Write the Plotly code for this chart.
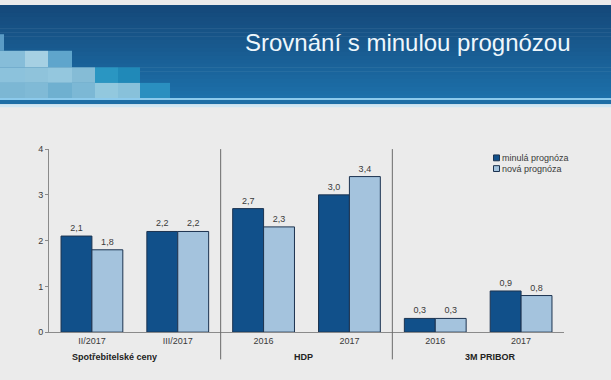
import plotly.graph_objects as go

# ---- data ----
categories = ["II/2017", "III/2017", "2016", "2017", "2016", "2017"]
group_labels = ["Spotřebitelské ceny", "HDP", "3M PRIBOR"]
series_names = ["minulá prognóza", "nová prognóza"]
minula = [2.1, 2.2, 2.7, 3.0, 0.3, 0.9]
nova = [1.8, 2.2, 2.3, 3.4, 0.3, 0.8]
y_ticks = [0, 1, 2, 3, 4]
title_text = "Srovnání s minulou prognózou"

# ---- styling ----
W, H = 611, 380
BG = "#ebebeb"
DARK = "#11508a"
LIGHT = "#a4c3dd"
OUTLINE = "#1c3350"
FONT = "Liberation Sans, Arial, sans-serif"

def py(p):
    return 1 - p / H

def px(p):
    return p / W

x_idx = list(range(len(categories)))

fig = go.Figure()
for name, vals, col in [(series_names[0], minula, DARK), (series_names[1], nova, LIGHT)]:
    fig.add_trace(go.Bar(
        x=x_idx, y=vals, name=name,
        marker=dict(color=col, line=dict(color=OUTLINE, width=1)),
        texttemplate="%{y:.1f}", textposition="outside",
        textfont=dict(size=9, color="#3a3a3a", family=FONT),
        cliponaxis=False, showlegend=False,
    ))

shapes = []
# header gradient
top = (21, 73, 122)
bot = (29, 112, 170)
n = 24
for i in range(n):
    t = i / (n - 1)
    c = tuple(int(top[k] + (bot[k] - top[k]) * t) for k in range(3))
    y0 = 96 * i / n
    y1 = 96 * (i + 1) / n + 0.5
    shapes.append(dict(type="rect", xref="paper", yref="paper", x0=0, x1=1,
                       y0=py(y1), y1=py(y0), line=dict(width=0),
                       fillcolor="rgb(%d,%d,%d)" % c, layer="above"))
# mosaic squares (decoration)
squares = [
    (0, 4, 30, 47, "#5b9cc6"),
    (0, 25, 47, 64, "#86bdd9"), (25, 48, 47, 64, "#a6d0e3"), (48, 72, 47, 64, "#5fa5cc"),
    (0, 25, 64, 80, "#8cc2dc"), (25, 48, 64, 80, "#8fc3db"), (48, 72, 64, 80, "#94c7de"),
    (72, 95, 64, 80, "#85bcd6"), (95, 118, 64, 80, "#2a96c2"), (118, 140, 64, 80, "#2089b8"),
    (0, 25, 80, 96, "#7cb7d4"), (25, 48, 80, 96, "#80bad6"), (48, 72, 80, 96, "#6fb0d0"),
    (72, 95, 80, 96, "#7cb8d5"), (95, 118, 80, 96, "#92c8de"), (118, 140, 80, 96, "#88c1da"),
    (140, 170, 80, 96, "#2a8fc0"),
]
for x0, x1, y0, y1, col in squares:
    shapes.append(dict(type="rect", xref="paper", yref="paper", x0=px(x0), x1=px(x1),
                       y0=py(y1), y1=py(y0), line=dict(width=0), fillcolor=col, layer="above"))
# bottom stripes of header
for y0, y1, col in [(95.5, 97.5, "#8ccaec"), (97.5, 102, "#1d6ea6"), (102, 105, "#cfe6f3")]:
    shapes.append(dict(type="rect", xref="paper", yref="paper", x0=0, x1=1,
                       y0=py(y1), y1=py(y0), line=dict(width=0), fillcolor=col, layer="above"))
# group separators
for xs in [1.5, 3.5]:
    shapes.append(dict(type="line", xref="x", yref="paper", x0=xs, x1=xs,
                       y0=py(364), y1=py(148), line=dict(color="#6a6a6a", width=1)))
# legend markers
for i, col in enumerate([DARK, LIGHT]):
    yc = 157 + 11 * i
    shapes.append(dict(type="rect", xref="paper", yref="paper",
                       x0=px(493.5), x1=px(499.5), y0=py(yc + 3), y1=py(yc - 3),
                       fillcolor=col, line=dict(color=OUTLINE, width=1)))

annotations = [dict(text=title_text, xref="paper", yref="paper", x=px(243), y=py(39),
                    xanchor="left", yanchor="middle", showarrow=False,
                    font=dict(size=24, color="#eef7fc", family=FONT))]
for i, name in enumerate(series_names):
    annotations.append(dict(text=name, xref="paper", yref="paper", x=px(500), y=py(157 + 11 * i),
                            xanchor="left", yanchor="middle", showarrow=False,
                            font=dict(size=9, color="#3a3a3a", family=FONT)))
for lab, xc in zip(group_labels, [114, 303, 490]):
    annotations.append(dict(text="<b>%s</b>" % lab, xref="paper", yref="paper", x=px(xc), y=py(361),
                            xanchor="center", yanchor="middle", showarrow=False,
                            font=dict(size=9, color="#222222", family=FONT)))

fig.update_layout(
    width=W, height=H, margin=dict(l=0, r=0, t=0, b=0),
    paper_bgcolor=BG, plot_bgcolor=BG,
    separators=", ",
    barmode="group", bargap=0.28, bargroupgap=0,
    shapes=shapes, annotations=annotations,
    font=dict(family=FONT, size=9, color="#3a3a3a"),
    xaxis=dict(domain=[px(49), px(564)], range=[-0.5, 5.5],
               tickmode="array", tickvals=x_idx, ticktext=categories,
               showline=True, linecolor="#8a8a8a", linewidth=1,
               ticks="", showgrid=False, zeroline=False,
               tickfont=dict(size=9, color="#3a3a3a")),
    yaxis=dict(domain=[py(336), py(148)], range=[0, 4],
               tickvals=y_ticks, showline=True, linecolor="#8a8a8a", linewidth=1,
               ticks="outside", ticklen=3, tickcolor="#8a8a8a",
               showgrid=False, zeroline=False,
               tickfont=dict(size=9, color="#3a3a3a")),
)

fig.write_html("out.html", config={"displayModeBar": False},
               post_script="document.body.style.margin='0';document.body.style.overflow='hidden';")
